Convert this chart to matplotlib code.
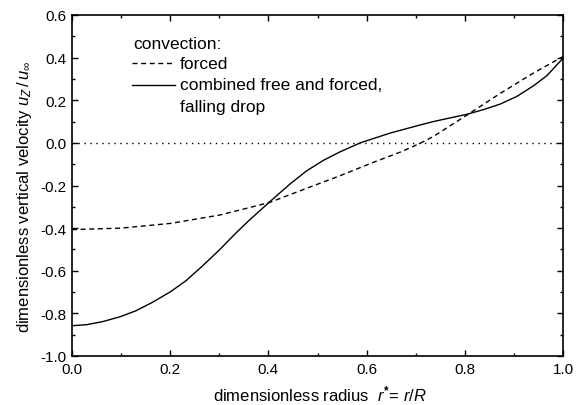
import matplotlib
matplotlib.use("Agg")
import matplotlib.pyplot as plt
from matplotlib.ticker import MultipleLocator, FormatStrFormatter

plt.rcParams['font.family'] = ['Liberation Sans', 'DejaVu Sans']
plt.rcParams['mathtext.fontset'] = 'custom'
plt.rcParams['mathtext.rm'] = 'Liberation Sans'
plt.rcParams['mathtext.it'] = 'Liberation Sans:italic'
plt.rcParams['mathtext.bf'] = 'Liberation Sans:bold'

# dimensionless radius r* = r/R
r_forced = [0.0, 0.1, 0.2, 0.3, 0.342, 0.403, 0.478, 0.546, 0.614, 0.668,
            0.709, 0.736, 0.804, 0.872, 0.94, 1.0]
u_forced = [-0.407, -0.40, -0.378, -0.339, -0.315, -0.279, -0.213, -0.154, -0.091, -0.044,
            -0.002, 0.03, 0.13, 0.232, 0.328, 0.405]

r_comb = [0.0, 0.03, 0.062, 0.099, 0.130, 0.164, 0.201, 0.232, 0.265, 0.299,
          0.333, 0.36, 0.403, 0.444, 0.478, 0.512, 0.546, 0.587, 0.648, 0.709,
          0.736, 0.804, 0.838, 0.872, 0.906, 0.94, 0.967, 1.0]
u_comb = [-0.858, -0.853, -0.839, -0.815, -0.788, -0.748, -0.698, -0.647, -0.579, -0.505,
          -0.425, -0.365, -0.276, -0.193, -0.131, -0.082, -0.042, 0.0, 0.046, 0.084,
          0.10, 0.134, 0.156, 0.182, 0.218, 0.268, 0.315, 0.397]

legend_title = 'convection:'
legend_labels = ['forced', 'combined free and forced,\nfalling drop']

fig = plt.figure(figsize=(5.86, 4.06), dpi=100)
ax = fig.add_axes([72 / 586, 1 - 357 / 406, 491 / 586, 341 / 406])

ax.axhline(0.0, color='black', lw=1.0, ls=(0, (1, 3.3)))
dash = (0, (3.6, 2.6))
ax.plot(r_forced, u_forced, color='black', lw=1.0, ls=dash)
ax.plot(r_comb, u_comb, color='black', lw=1.0, ls='-')

ax.set_xlim(0.0, 1.0)
ax.set_ylim(-1.0, 0.6)
ax.xaxis.set_major_locator(MultipleLocator(0.2))
ax.xaxis.set_minor_locator(MultipleLocator(0.1))
ax.yaxis.set_major_locator(MultipleLocator(0.2))
ax.yaxis.set_minor_locator(MultipleLocator(0.1))
ax.xaxis.set_major_formatter(FormatStrFormatter('%.1f'))
ax.yaxis.set_major_formatter(FormatStrFormatter('%.1f'))
ax.tick_params(which='both', direction='in', top=True, right=True, labelsize=11)
ax.tick_params(which='major', length=4, width=1.0, pad=4)
ax.tick_params(which='minor', length=2.5, width=1.0)
for s in ax.spines.values():
    s.set_linewidth(1.2)

ax.set_xlabel(r'dimensionless radius  $r^{\mathbf{*}}$= $r/R$', fontsize=12, va='center')
ax.xaxis.set_label_coords(0.505, -0.11)
ax.set_ylabel(r'dimensionless vertical velocity $u_Z\,/\,u_\infty$', fontsize=12, va='center')
ax.yaxis.set_label_coords(-0.096, 0.47)

# hand-placed legend, like the original
tr = ax.transAxes
ax.text(0.124, 0.915, legend_title, transform=tr, fontsize=12.5, va='center', ha='left')
ax.plot([0.122, 0.210], [0.859, 0.859], transform=tr, color='black', lw=1.0, ls=dash)
ax.text(0.220, 0.859, legend_labels[0], transform=tr, fontsize=12.5, va='center', ha='left')
ax.plot([0.122, 0.210], [0.795, 0.795], transform=tr, color='black', lw=1.0)
line1, line2 = legend_labels[1].split('\n')
ax.text(0.220, 0.795, line1, transform=tr, fontsize=12.5, va='center', ha='left')
ax.text(0.220, 0.733, line2, transform=tr, fontsize=12.5, va='center', ha='left')

fig.savefig('out.png', dpi=100)
